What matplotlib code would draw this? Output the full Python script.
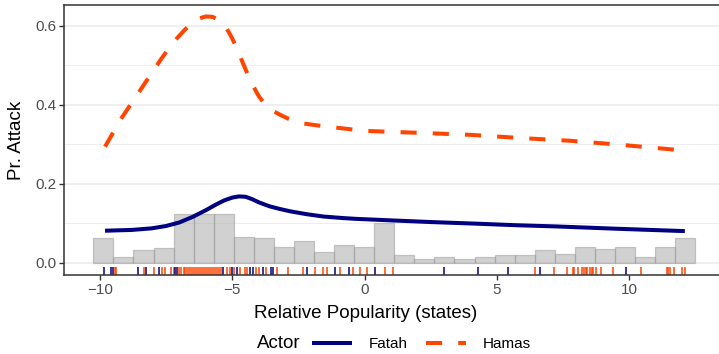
import matplotlib
matplotlib.use("Agg")
import matplotlib.pyplot as plt
from matplotlib.lines import Line2D
import numpy as np

plt.rcParams['font.family'] = ['Liberation Sans', 'DejaVu Sans']

# fitted curves
fatah_x = [-9.81, -8.8, -8.05, -7.5, -7.0, -6.5, -6.0, -5.6, -5.3, -5.0, -4.75, -4.5, -4.25, -4.0,
           -3.6, -3.2, -2.8, -2.2, -1.56, -0.8, -0.3, 1.07, 2.5, 4.17, 5.7, 7.19, 9.52, 12.1]
fatah_y = [0.081, 0.083, 0.087, 0.093, 0.102, 0.116, 0.133, 0.148, 0.158, 0.165, 0.168, 0.167, 0.161, 0.153,
           0.143, 0.136, 0.130, 0.123, 0.117, 0.113, 0.111, 0.107, 0.103, 0.099, 0.095, 0.092, 0.086, 0.080]

hamas_x = [-9.81, -9.5, -9.2, -8.9, -8.6, -8.3, -8.0, -7.7, -7.4, -7.1, -6.8, -6.5, -6.25, -6.0,
           -5.75, -5.5, -5.25, -5.0, -4.75, -4.5, -4.25, -4.0, -3.75, -3.5, -3.2, -2.8, -2.44,
           -1.8, -1.31, 0.0, 2.09, 3.98, 5.87, 7.76, 9.64, 12.1]
hamas_y = [0.294, 0.330, 0.365, 0.395, 0.425, 0.455, 0.485, 0.515, 0.543, 0.568, 0.590, 0.608, 0.619, 0.624,
           0.623, 0.615, 0.598, 0.568, 0.530, 0.490, 0.452, 0.422, 0.400, 0.386, 0.375, 0.362, 0.354,
           0.348, 0.344, 0.334, 0.329, 0.324, 0.316, 0.309, 0.299, 0.284]

# histogram of relative popularity (scaled), 30 bins
hist_start = -10.25
hist_width = 0.758
hist_vals = [0.0625, 0.0137, 0.032, 0.0365, 0.124, 0.124, 0.124, 0.066, 0.0625, 0.040,
             0.054, 0.027, 0.046, 0.040, 0.101, 0.019, 0.0093, 0.0144, 0.0093, 0.0144,
             0.019, 0.019, 0.032, 0.023, 0.040, 0.035, 0.040, 0.0137, 0.040, 0.0625]

# rug positions
fatah_rug = [-9.84, -9.6, -9.5, -8.58, -8.26, -7.76, -7.17, -7.08, -5.35, -5.02, -4.84, -4.35, -4.2,
             -3.85, -3.55, -3.45, -2.19, -1.12, -0.58, 0.39, 3.0, 4.27, 5.43, 6.62, 9.87]
hamas_rug = [-9.45, -9.38, -8.33, -7.95, -7.65, -7.55, -7.3, -7.2, -7.0, -6.93, -6.84, -6.77, -6.71,
             -6.62, -6.55, -6.47, -6.41, -6.33, -6.26, -6.17, -6.1, -6.03, -5.94, -5.88, -5.81, -5.72,
             -5.66, -5.57, -5.5, -5.43, -5.2, -5.1, -4.92, -4.7, -4.52, -4.43, -4.1, -3.98, -3.72,
             -3.3, -2.89, -2.32, -1.88, -1.56, -1.44, -0.93, -0.43, -0.18, 0.08, 0.77, 1.08,
             6.43, 7.16, 7.63, 7.88, 7.92, 8.07, 8.22, 8.28, 8.35, 8.42, 8.51, 8.58, 8.64, 8.73,
             8.92, 9.37, 10.46, 11.41, 11.47, 11.53, 11.68, 12.01, 12.12]

navy = '#000080'
orange = '#FF4500'
txt = '#4d4d4d'

fig = plt.figure(figsize=(7.19, 3.54), dpi=100)
ax = fig.add_axes([64/719, 1-275/354, 655/719, 270/354])

ax.set_xlim(-11.36, 13.39)
ax.set_ylim(-0.0312, 0.653)

# grid (horizontal only)
for g in [0.1, 0.3, 0.5]:
    ax.axhline(g, color='#ebebeb', lw=0.6, zorder=0)
for g in [0.0, 0.2, 0.4, 0.6]:
    ax.axhline(g, color='#ebebeb', lw=1.1, zorder=0)

edges = hist_start + hist_width*np.arange(len(hist_vals))
ax.bar(edges, hist_vals, width=hist_width, align='edge', color=(0.6, 0.6, 0.6, 0.45),
       edgecolor=(0.62, 0.62, 0.62, 0.55), linewidth=0.9, zorder=1)

trans = ax.get_xaxis_transform()
ax.vlines(hamas_rug, 0, 0.03, transform=trans, color=orange, lw=1.1, zorder=2)
ax.vlines(fatah_rug, 0, 0.03, transform=trans, color=navy, lw=1.1, zorder=2)

ax.plot(fatah_x, fatah_y, color=navy, lw=2.9, zorder=3, solid_capstyle='butt', solid_joinstyle='round')
ax.plot(hamas_x, hamas_y, color=orange, lw=2.9, zorder=3, dashes=(4, 4), dash_capstyle='butt',
        dash_joinstyle='round')

for s in ax.spines.values():
    s.set_color('#333333')
    s.set_linewidth(1.1)
ax.spines['right'].set_visible(False)

ax.set_xticks([-10, -5, 0, 5, 10])
ax.set_xticklabels(['\u221210', '\u22125', '0', '5', '10'])
ax.set_yticks([0.0, 0.2, 0.4, 0.6])
ax.set_yticklabels(['0.0', '0.2', '0.4', '0.6'])
ax.tick_params(length=3.5, width=1.0, color='#333333', labelcolor=txt, labelsize=11, pad=2)

ax.set_xlabel('Relative Popularity (states)', fontsize=13.5, va='center')
ax.set_ylabel('Pr. Attack', fontsize=13.5, va='center')
ax.xaxis.set_label_coords(0.46, -0.141)
ax.yaxis.set_label_coords(-0.072, 0.5)

handles = [Line2D([], [], color=navy, lw=2.9, solid_capstyle='butt'),
           Line2D([], [], color=orange, lw=2.9, dashes=(4, 4), dash_capstyle='butt')]
fig.text(257/719, 1-344/354, 'Actor', fontsize=13.5, va='center', ha='left')
fig.legend(handles, ['Fatah', 'Hamas'], loc='center left', bbox_to_anchor=(312/719, 1-344/354),
           ncol=2, frameon=False, fontsize=11, handlelength=2.6, handletextpad=1.1,
           columnspacing=1.2, borderaxespad=0, borderpad=0)

fig.savefig('out.png', dpi=100)
